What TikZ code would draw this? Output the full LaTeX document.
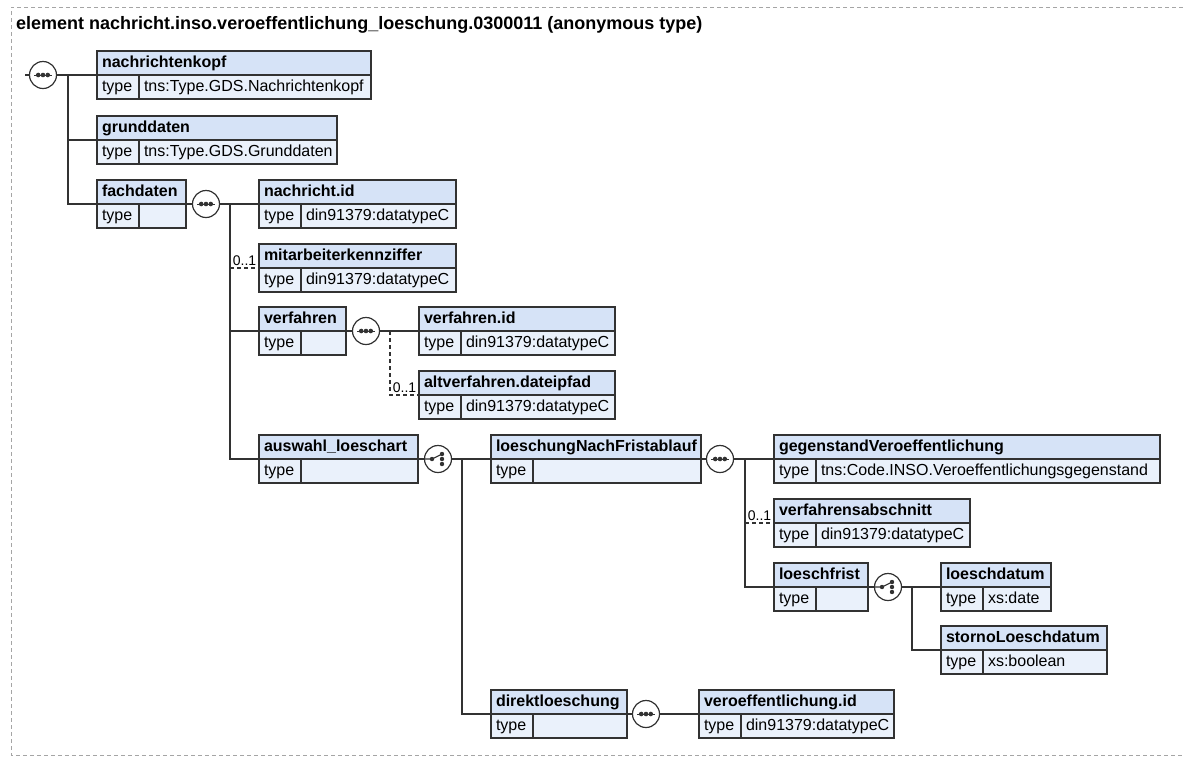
\documentclass[tikz,border=0pt]{standalone}
\usepackage{fontspec}
\setmainfont{Liberation Sans}
\usetikzlibrary{arrows.meta}
\definecolor{headfill}{RGB}{214,227,247}
\definecolor{rowfill}{RGB}{234,241,251}
\definecolor{boxline}{RGB}{50,50,50}
\definecolor{framegray}{RGB}{165,165,165}
\tikzset{
  elhead/.style={anchor=north west, draw=boxline, fill=headfill, line width=1.2pt, outer sep=0pt,
    minimum height=24pt, inner xsep=5pt, inner ysep=0pt, text height=11.5pt, text depth=3.5pt, align=left,
    font=\bfseries\fontsize{16}{19}\selectfont},
  eltype/.style={elhead, fill=rowfill, text width=32pt, font=\fontsize{16}{19}\selectfont},
  elval/.style={eltype},
  seqsym/.style={circle, draw=boxline, fill=white, line width=1.2pt, outer sep=0pt, minimum size=27pt, inner sep=0pt,
    path picture={
      \begin{scope}[shift={(path picture bounding box.center)}]
        \draw[boxline, line width=1pt] (-9pt,0pt) -- (9pt,0pt);
        \foreach \d in {-4.8,0,4.8} \fill[boxline] (\d pt,0pt) circle (2.3pt);
      \end{scope}}},
  chosym/.style={circle, draw=boxline, fill=white, line width=1.2pt, outer sep=0pt, minimum size=27pt, inner sep=0pt,
    path picture={
      \begin{scope}[shift={(path picture bounding box.center)}]
        \draw[boxline, line width=1.1pt] (-14pt,0pt) -- (-6pt,0pt) -- (3pt,4.5pt);
        \fill[boxline] (-6pt,0pt) circle (2.2pt);
        \foreach \d in {-5,0,5} \fill[boxline] (4pt,\d pt) circle (2.2pt);
      \end{scope}}},
  conn/.style={draw=boxline, line width=1.3pt},
  optconn/.style={conn, line width=1.1pt, dash pattern=on 4pt off 3pt},
  occ/.style={anchor=south, inner sep=1pt, font=\fontsize{14}{16}\selectfont},
  title/.style={anchor=base west, inner sep=0pt, font=\bfseries\fontsize{18}{21}\selectfont},
  frameline/.style={draw=framegray, line width=1pt, dash pattern=on 4pt off 3pt}
}
\begin{document}
\begin{tikzpicture}[x=1pt, y=-1pt]
  \useasboundingbox (0,0) rectangle (1183,756);
  \draw[frameline] (1183,7) -- (11,7) -- (11,755) -- (1183,755);
  \node[title] (title) at (16,29.5) {element nachricht.inso.veroeffentlichung\_loeschung.0300011 (anonymous type)};

  % elements of the outer sequence
  \node[elhead, text width=264pt] (nkopf) at (97,51) {nachrichtenkopf};
  \node[eltype] (nkopf-t) at (nkopf.south west) {type};
  \node[elval, text width=222pt] (nkopf-v) at (nkopf-t.north east) {tns:Type.GDS.Nachrichtenkopf};

  \node[elhead, text width=230pt] (grund) at (97,116) {grunddaten};
  \node[eltype] (grund-t) at (grund.south west) {type};
  \node[elval, text width=188pt] (grund-v) at (grund-t.north east) {tns:Type.GDS.Grunddaten};

  \node[elhead, text width=79pt] (fach) at (97,180) {fachdaten};
  \node[eltype] (fach-t) at (fach.south west) {type};
  \node[elval, text width=37pt] (fach-v) at (fach-t.north east) {};

  % fachdaten
  \node[elhead, text width=187pt] (nid) at (259,180) {nachricht.id};
  \node[eltype] (nid-t) at (nid.south west) {type};
  \node[elval, text width=145pt] (nid-v) at (nid-t.north east) {din91379:datatypeC};

  \node[elhead, text width=187pt] (mitarb) at (259,244) {mitarbeiterkennziffer};
  \node[eltype] (mitarb-t) at (mitarb.south west) {type};
  \node[elval, text width=145pt] (mitarb-v) at (mitarb-t.north east) {din91379:datatypeC};

  \node[elhead, text width=77pt] (verf) at (259,307) {verfahren};
  \node[eltype] (verf-t) at (verf.south west) {type};
  \node[elval, text width=35pt] (verf-v) at (verf-t.north east) {};

  \node[elhead, text width=149pt] (ausw) at (259,435) {auswahl\_loeschart};
  \node[eltype] (ausw-t) at (ausw.south west) {type};
  \node[elval, text width=107pt] (ausw-v) at (ausw-t.north east) {};

  % verfahren
  \node[elhead, text width=186pt] (verfid) at (419,307) {verfahren.id};
  \node[eltype] (verfid-t) at (verfid.south west) {type};
  \node[elval, text width=144pt] (verfid-v) at (verfid-t.north east) {din91379:datatypeC};

  \node[elhead, text width=186pt] (altverf) at (419,371) {altverfahren.dateipfad};
  \node[eltype] (altverf-t) at (altverf.south west) {type};
  \node[elval, text width=144pt] (altverf-v) at (altverf-t.north east) {din91379:datatypeC};

  % auswahl_loeschart
  \node[elhead, text width=200pt] (lnf) at (491,435) {loeschungNachFristablauf};
  \node[eltype] (lnf-t) at (lnf.south west) {type};
  \node[elval, text width=158pt] (lnf-v) at (lnf-t.north east) {};

  \node[elhead, text width=126pt] (direkt) at (491,690) {direktloeschung};
  \node[eltype] (direkt-t) at (direkt.south west) {type};
  \node[elval, text width=84pt] (direkt-v) at (direkt-t.north east) {};

  % loeschungNachFristablauf
  \node[elhead, text width=376pt] (gegen) at (774,435) {gegenstandVeroeffentlichung};
  \node[eltype] (gegen-t) at (gegen.south west) {type};
  \node[elval, text width=334pt] (gegen-v) at (gegen-t.north east) {tns:Code.INSO.Veroeffentlichungsgegenstand};

  \node[elhead, text width=186pt] (vabschn) at (774,499) {verfahrensabschnitt};
  \node[eltype] (vabschn-t) at (vabschn.south west) {type};
  \node[elval, text width=144pt] (vabschn-v) at (vabschn-t.north east) {din91379:datatypeC};

  \node[elhead, text width=84pt] (lfrist) at (774,563) {loeschfrist};
  \node[eltype] (lfrist-t) at (lfrist.south west) {type};
  \node[elval, text width=42pt] (lfrist-v) at (lfrist-t.north east) {};

  % loeschfrist
  \node[elhead, text width=100pt] (ldatum) at (941,563) {loeschdatum};
  \node[eltype] (ldatum-t) at (ldatum.south west) {type};
  \node[elval, text width=58pt] (ldatum-v) at (ldatum-t.north east) {xs:date};

  \node[elhead, text width=156pt] (storno) at (941,626) {stornoLoeschdatum};
  \node[eltype] (storno-t) at (storno.south west) {type};
  \node[elval, text width=114pt] (storno-v) at (storno-t.north east) {xs:boolean};

  % direktloeschung
  \node[elhead, text width=185pt] (voeid) at (699,690) {veroeffentlichung.id};
  \node[eltype] (voeid-t) at (voeid.south west) {type};
  \node[elval, text width=143pt] (voeid-v) at (voeid-t.north east) {din91379:datatypeC};

  % compositors
  \coordinate (root-in) at (25,75);
  \node[seqsym] (seq-root) at (43,75) {};
  \coordinate (bus-root) at (68,75);
  \node[seqsym] (seq-fach) at (206,204) {};
  \coordinate (bus-fach) at (230,204);
  \node[seqsym] (seq-verf) at (366,331) {};
  \coordinate (bus-verf) at (390,331);
  \node[chosym] (cho-ausw) at (438,459) {};
  \coordinate (bus-ausw) at (462,459);
  \node[seqsym] (seq-lnf) at (720,459) {};
  \coordinate (bus-lnf) at (745,459);
  \node[chosym] (cho-lfrist) at (888,587) {};
  \coordinate (bus-lfrist) at (912,587);
  \node[seqsym] (seq-direkt) at (646,714) {};

  % connectors
  \draw[conn] (root-in) -- (seq-root);
  \draw[conn] (seq-root) -- (bus-root) |- (nkopf.south west);
  \draw[conn] (bus-root) |- (grund.south west);
  \draw[conn] (bus-root) |- (fach.south west);

  \draw[conn] (fach.south east) -- (seq-fach);
  \draw[conn] (seq-fach) -- (bus-fach) |- (nid.south west);
  \draw[conn] (bus-fach) |- (verf.south west);
  \draw[conn] (bus-fach) |- (ausw.south west);
  \draw[optconn] (bus-fach |- mitarb.south west) -- (mitarb.south west);
  \node[occ] (mitarb-occ) at (244.5,267) {0..1};

  \draw[conn] (verf.south east) -- (seq-verf);
  \draw[conn] (seq-verf) -- (verfid.south west);
  \draw[optconn] (bus-verf) |- (altverf.south west);
  \node[occ] (altverf-occ) at (404.5,394) {0..1};

  \draw[conn] (ausw.south east) -- (cho-ausw);
  \draw[conn] (cho-ausw) -- (bus-ausw) |- (lnf.south west);
  \draw[conn] (bus-ausw) |- (direkt.south west);

  \draw[conn] (lnf.south east) -- (seq-lnf);
  \draw[conn] (seq-lnf) -- (bus-lnf) |- (gegen.south west);
  \draw[conn] (bus-lnf) |- (lfrist.south west);
  \draw[optconn] (bus-lnf |- vabschn.south west) -- (vabschn.south west);
  \node[occ] (vabschn-occ) at (759.5,522) {0..1};

  \draw[conn] (lfrist.south east) -- (cho-lfrist);
  \draw[conn] (cho-lfrist) -- (bus-lfrist) |- (ldatum.south west);
  \draw[conn] (bus-lfrist) |- (storno.south west);

  \draw[conn] (direkt.south east) -- (seq-direkt);
  \draw[conn] (seq-direkt) -- (voeid.south west);
\end{tikzpicture}
\end{document}
